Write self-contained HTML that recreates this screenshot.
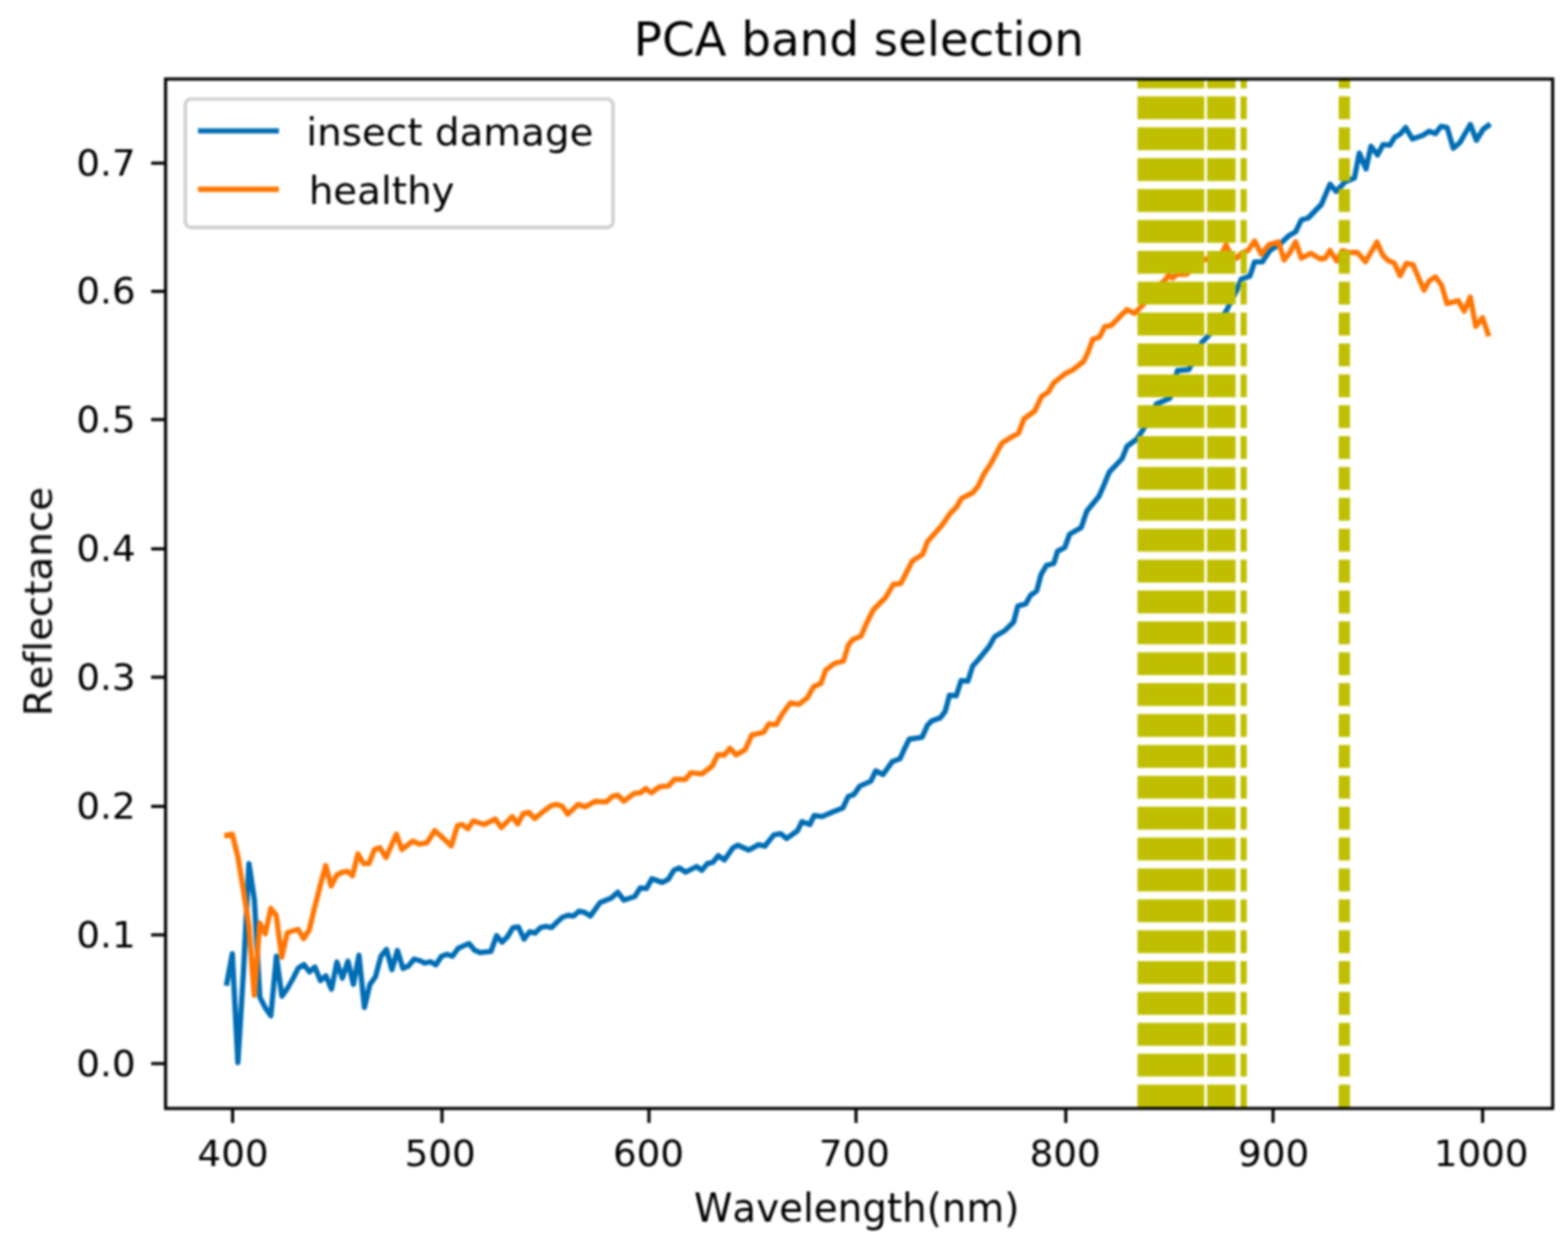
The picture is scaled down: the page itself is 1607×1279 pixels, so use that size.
<!DOCTYPE html>
<html lang="en"><head><meta charset="utf-8"><title>PCA band selection</title>
<style>
html,body{margin:0;padding:0;background:#fff;}
body{width:1607px;height:1279px;overflow:hidden;}
svg{display:block;}
text{font-family:"DejaVu Sans","Liberation Sans",sans-serif;fill:#000;font-variant-ligatures:none;font-feature-settings:"liga" 0,"clig" 0;font-kerning:none;}
.tk{font-size:38.2px;}
.lb,.lg{font-size:39.8px;}
.ttl{font-size:47.9px;}
</style></head><body>
<svg width="1607" height="1279" viewBox="0 0 1607 1279">
<rect x="0" y="0" width="1607" height="1279" fill="#fff"/>
<defs><clipPath id="ax"><rect x="169.7" y="81.0" width="1421.6" height="1055.0"/></clipPath>
<filter id="soft" x="0" y="0" width="1607" height="1279" filterUnits="userSpaceOnUse" color-interpolation-filters="sRGB"><feGaussianBlur stdDeviation="1.2"/></filter></defs>
<g filter="url(#soft)">
<g clip-path="url(#ax)">
<polyline fill="none" stroke="#006db4" stroke-width="5.4" stroke-linejoin="round" stroke-linecap="square" points="232.5,1007.5 238.1,977.5 243.8,1089.0 249.4,998.0 255.1,885.0 260.7,922.0 266.3,1022.0 272.0,1033.0 277.6,1041.0 283.3,980.0 288.9,1021.0 294.5,1013.0 300.2,1003.0 305.8,992.0 311.5,988.5 317.1,996.0 322.7,991.0 328.4,1005.0 334.0,1000.0 339.7,1013.8 345.3,986.0 350.9,1002.5 356.6,985.0 362.2,1008.8 367.9,979.0 373.5,1032.5 379.1,1008.8 384.8,1001.0 390.4,980.0 396.1,973.0 401.7,993.8 407.3,974.0 413.0,992.5 418.6,990.0 424.3,983.0 429.9,984.4 435.5,987.0 441.2,985.6 446.8,988.8 452.5,980.0 458.1,978.0 463.7,980.0 469.4,972.0 475.0,969.4 480.7,966.9 486.3,973.8 491.9,976.2 497.6,975.6 503.2,975.0 508.9,958.8 514.5,965.6 520.1,960.0 525.8,950.6 531.4,950.0 537.1,962.5 542.7,955.0 548.3,956.2 554.0,950.6 559.6,949.4 565.3,950.6 570.9,945.0 576.5,940.0 582.2,938.0 587.8,938.8 593.5,933.8 599.1,935.0 605.0,938.8 615.0,925.0 626.2,920.6 633.1,914.4 639.4,922.5 650.6,918.8 656.2,910.0 662.5,910.6 668.1,900.6 678.8,904.4 685.0,901.2 690.6,891.9 696.2,889.4 702.5,893.8 713.8,888.1 719.4,891.9 725.0,885.0 730.6,883.8 736.2,876.9 742.5,881.2 751.2,868.8 756.2,866.2 767.5,871.2 777.5,865.6 783.8,867.2 793.1,855.6 800.0,854.4 806.2,859.4 817.5,851.2 821.9,841.9 830.0,845.0 834.4,835.6 842.5,836.9 852.5,832.5 863.8,828.1 869.4,816.2 875.0,814.4 881.2,805.6 892.5,800.6 897.5,790.0 905.0,793.8 914.4,780.6 922.5,777.5 926.9,767.5 931.9,757.5 945.0,755.6 950.6,743.1 955.0,738.8 963.8,735.6 968.8,728.8 973.1,712.5 980.0,713.1 985.0,697.5 991.9,698.1 996.9,682.5 1002.5,676.2 1013.8,662.5 1019.4,652.5 1030.0,646.2 1038.8,637.5 1043.1,621.2 1051.2,618.8 1056.2,610.0 1062.5,605.6 1066.9,588.8 1072.5,579.4 1080.0,577.5 1083.8,565.0 1091.2,561.2 1096.2,547.5 1108.1,540.6 1113.8,523.8 1126.2,508.8 1131.2,497.5 1136.9,483.8 1150.0,470.0 1155.0,457.5 1165.0,450.0 1172.5,438.8 1185.2,414.0 1198.9,408.2 1206.7,379.8 1218.4,378.9 1232.1,350.5 1238.0,344.6 1256.5,319.2 1260.4,311.4 1267.3,297.7 1272.2,286.0 1281.0,283.0 1285.8,268.4 1293.7,268.4 1301.5,256.7 1312.2,249.8 1321.0,241.5 1327.9,237.5 1333.7,225.4 1340.6,223.5 1354.3,209.5 1363.1,188.8 1369.4,196.2 1378.8,186.2 1388.1,182.5 1393.1,156.9 1400.0,173.1 1405.0,150.0 1411.9,158.8 1417.5,148.1 1424.4,148.8 1429.4,140.6 1435.0,137.5 1440.6,130.6 1447.5,142.5 1458.1,138.8 1465.0,134.4 1471.2,136.9 1476.9,129.4 1483.1,130.6 1489.4,151.9 1496.2,146.2 1506.9,127.5 1513.1,143.8 1520.0,132.5 1525.3,128.6"/>
<polyline fill="none" stroke="#ff7604" stroke-width="5.4" stroke-linejoin="round" stroke-linecap="square" points="232.5,856.0 238.1,855.0 243.8,878.0 249.4,912.0 255.0,948.0 260.6,1020.0 266.2,946.0 271.9,957.0 277.5,931.0 283.1,938.0 288.8,981.0 294.4,956.0 300.0,954.0 305.6,952.5 311.2,962.0 316.9,953.0 322.5,930.0 328.1,908.0 333.8,887.0 339.4,908.0 345.0,897.0 350.6,894.0 356.2,893.0 361.2,897.5 366.9,875.0 372.5,885.0 378.1,885.0 383.8,870.6 389.4,868.8 395.6,878.8 406.2,855.0 411.9,870.6 423.1,861.9 429.4,865.0 437.5,863.8 445.6,851.2 451.2,856.2 462.5,866.9 468.8,846.2 473.8,845.0 479.4,849.4 485.0,841.2 496.2,845.0 507.5,839.4 513.8,848.1 525.0,836.9 530.6,844.4 536.2,833.8 541.9,832.5 548.1,838.8 558.8,830.0 565.0,825.6 570.6,824.4 576.2,826.2 581.9,834.4 592.5,824.4 600.0,826.9 610.0,821.2 621.2,821.9 627.5,816.2 633.1,815.0 639.4,821.2 650.0,813.1 656.2,812.5 661.9,808.1 667.5,812.5 676.2,806.2 685.0,805.6 691.2,798.8 702.5,798.8 708.1,791.9 719.4,793.1 730.0,785.0 735.6,773.5 742.5,773.8 748.1,766.9 754.4,773.8 763.8,768.1 770.6,753.1 782.5,750.6 788.1,741.9 795.6,742.5 801.2,732.5 810.0,720.5 818.8,721.9 827.5,715.0 833.8,703.8 841.2,700.6 846.2,686.9 855.0,680.0 864.4,677.5 869.4,661.2 873.8,655.6 882.5,651.9 887.5,640.0 895.0,625.0 907.5,612.5 915.6,598.8 923.1,598.1 935.0,575.0 945.6,568.1 950.6,555.0 965.0,538.8 973.8,526.2 980.0,520.0 985.6,510.6 996.9,505.0 1002.5,498.1 1008.8,485.0 1015.0,476.0 1026.7,454.2 1035.3,448.7 1043.9,444.0 1049.4,429.2 1060.4,421.3 1067.4,406.5 1074.4,401.8 1079.9,392.4 1091.6,383.0 1099.4,379.1 1110.4,370.5 1115.1,361.1 1119.8,347.9 1126.8,345.5 1132.3,334.6 1138.5,333.8 1146.3,326.0 1150.0,322.2 1154.9,317.3 1162.7,321.2 1171.5,312.4 1180.0,300.0 1194.0,287.0 1197.9,282.0 1201.8,285.0 1206.7,281.0 1216.5,281.0 1225.0,272.0 1235.4,265.5 1245.0,266.0 1250.8,263.0 1256.5,251.0 1262.0,262.5 1267.5,264.5 1272.5,259.5 1279.0,256.7 1285.8,247.0 1292.7,260.6 1300.5,250.8 1310.3,247.9 1316.1,266.5 1322.0,258.6 1327.9,247.9 1333.7,264.5 1343.5,259.6 1353.3,265.5 1358.2,264.5 1363.0,256.7 1369.9,267.4 1375.6,256.9 1382.5,258.8 1391.2,258.8 1399.4,268.1 1411.2,248.1 1416.9,261.2 1422.5,266.9 1428.8,269.4 1435.0,282.5 1441.2,270.0 1448.1,271.2 1459.4,297.5 1465.0,287.5 1471.2,283.8 1477.5,292.5 1483.1,311.2 1494.4,308.1 1500.6,318.8 1506.9,304.4 1512.5,334.4 1519.4,325.6 1525.0,342.0"/>
<g fill="#bfbf00">
<rect x="1165.8" y="1111.6" width="68.5" height="23.4"/>
<rect x="1165.8" y="1079.9" width="68.5" height="23.4"/>
<rect x="1165.8" y="1048.3" width="68.5" height="23.4"/>
<rect x="1165.8" y="1016.6" width="68.5" height="23.4"/>
<rect x="1165.8" y="985.0" width="68.5" height="23.4"/>
<rect x="1165.8" y="953.4" width="68.5" height="23.4"/>
<rect x="1165.8" y="921.7" width="68.5" height="23.4"/>
<rect x="1165.8" y="890.1" width="68.5" height="23.4"/>
<rect x="1165.8" y="858.4" width="68.5" height="23.4"/>
<rect x="1165.8" y="826.8" width="68.5" height="23.4"/>
<rect x="1165.8" y="795.1" width="68.5" height="23.4"/>
<rect x="1165.8" y="763.5" width="68.5" height="23.4"/>
<rect x="1165.8" y="731.8" width="68.5" height="23.4"/>
<rect x="1165.8" y="700.1" width="68.5" height="23.4"/>
<rect x="1165.8" y="668.5" width="68.5" height="23.4"/>
<rect x="1165.8" y="636.9" width="68.5" height="23.4"/>
<rect x="1165.8" y="605.2" width="68.5" height="23.4"/>
<rect x="1165.8" y="573.6" width="68.5" height="23.4"/>
<rect x="1165.8" y="541.9" width="68.5" height="23.4"/>
<rect x="1165.8" y="510.2" width="68.5" height="23.4"/>
<rect x="1165.8" y="478.6" width="68.5" height="23.4"/>
<rect x="1165.8" y="447.0" width="68.5" height="23.4"/>
<rect x="1165.8" y="415.3" width="68.5" height="23.4"/>
<rect x="1165.8" y="383.7" width="68.5" height="23.4"/>
<rect x="1165.8" y="352.0" width="68.5" height="23.4"/>
<rect x="1165.8" y="320.4" width="68.5" height="23.4"/>
<rect x="1165.8" y="288.7" width="68.5" height="23.4"/>
<rect x="1165.8" y="257.1" width="68.5" height="23.4"/>
<rect x="1165.8" y="225.4" width="68.5" height="23.4"/>
<rect x="1165.8" y="193.8" width="68.5" height="23.4"/>
<rect x="1165.8" y="162.1" width="68.5" height="23.4"/>
<rect x="1165.8" y="130.5" width="68.5" height="23.4"/>
<rect x="1165.8" y="98.8" width="68.5" height="23.4"/>
<rect x="1165.8" y="81.0" width="68.5" height="9.5"/>
<rect x="1237.1" y="1111.6" width="29.3" height="23.4"/>
<rect x="1237.1" y="1079.9" width="29.3" height="23.4"/>
<rect x="1237.1" y="1048.3" width="29.3" height="23.4"/>
<rect x="1237.1" y="1016.6" width="29.3" height="23.4"/>
<rect x="1237.1" y="985.0" width="29.3" height="23.4"/>
<rect x="1237.1" y="953.4" width="29.3" height="23.4"/>
<rect x="1237.1" y="921.7" width="29.3" height="23.4"/>
<rect x="1237.1" y="890.1" width="29.3" height="23.4"/>
<rect x="1237.1" y="858.4" width="29.3" height="23.4"/>
<rect x="1237.1" y="826.8" width="29.3" height="23.4"/>
<rect x="1237.1" y="795.1" width="29.3" height="23.4"/>
<rect x="1237.1" y="763.5" width="29.3" height="23.4"/>
<rect x="1237.1" y="731.8" width="29.3" height="23.4"/>
<rect x="1237.1" y="700.1" width="29.3" height="23.4"/>
<rect x="1237.1" y="668.5" width="29.3" height="23.4"/>
<rect x="1237.1" y="636.9" width="29.3" height="23.4"/>
<rect x="1237.1" y="605.2" width="29.3" height="23.4"/>
<rect x="1237.1" y="573.6" width="29.3" height="23.4"/>
<rect x="1237.1" y="541.9" width="29.3" height="23.4"/>
<rect x="1237.1" y="510.2" width="29.3" height="23.4"/>
<rect x="1237.1" y="478.6" width="29.3" height="23.4"/>
<rect x="1237.1" y="447.0" width="29.3" height="23.4"/>
<rect x="1237.1" y="415.3" width="29.3" height="23.4"/>
<rect x="1237.1" y="383.7" width="29.3" height="23.4"/>
<rect x="1237.1" y="352.0" width="29.3" height="23.4"/>
<rect x="1237.1" y="320.4" width="29.3" height="23.4"/>
<rect x="1237.1" y="288.7" width="29.3" height="23.4"/>
<rect x="1237.1" y="257.1" width="29.3" height="23.4"/>
<rect x="1237.1" y="225.4" width="29.3" height="23.4"/>
<rect x="1237.1" y="193.8" width="29.3" height="23.4"/>
<rect x="1237.1" y="162.1" width="29.3" height="23.4"/>
<rect x="1237.1" y="130.5" width="29.3" height="23.4"/>
<rect x="1237.1" y="98.8" width="29.3" height="23.4"/>
<rect x="1237.1" y="81.0" width="29.3" height="9.5"/>
<rect x="1271.4" y="1111.6" width="6.4" height="23.4"/>
<rect x="1271.4" y="1079.9" width="6.4" height="23.4"/>
<rect x="1271.4" y="1048.3" width="6.4" height="23.4"/>
<rect x="1271.4" y="1016.6" width="6.4" height="23.4"/>
<rect x="1271.4" y="985.0" width="6.4" height="23.4"/>
<rect x="1271.4" y="953.4" width="6.4" height="23.4"/>
<rect x="1271.4" y="921.7" width="6.4" height="23.4"/>
<rect x="1271.4" y="890.1" width="6.4" height="23.4"/>
<rect x="1271.4" y="858.4" width="6.4" height="23.4"/>
<rect x="1271.4" y="826.8" width="6.4" height="23.4"/>
<rect x="1271.4" y="795.1" width="6.4" height="23.4"/>
<rect x="1271.4" y="763.5" width="6.4" height="23.4"/>
<rect x="1271.4" y="731.8" width="6.4" height="23.4"/>
<rect x="1271.4" y="700.1" width="6.4" height="23.4"/>
<rect x="1271.4" y="668.5" width="6.4" height="23.4"/>
<rect x="1271.4" y="636.9" width="6.4" height="23.4"/>
<rect x="1271.4" y="605.2" width="6.4" height="23.4"/>
<rect x="1271.4" y="573.6" width="6.4" height="23.4"/>
<rect x="1271.4" y="541.9" width="6.4" height="23.4"/>
<rect x="1271.4" y="510.2" width="6.4" height="23.4"/>
<rect x="1271.4" y="478.6" width="6.4" height="23.4"/>
<rect x="1271.4" y="447.0" width="6.4" height="23.4"/>
<rect x="1271.4" y="415.3" width="6.4" height="23.4"/>
<rect x="1271.4" y="383.7" width="6.4" height="23.4"/>
<rect x="1271.4" y="352.0" width="6.4" height="23.4"/>
<rect x="1271.4" y="320.4" width="6.4" height="23.4"/>
<rect x="1271.4" y="288.7" width="6.4" height="23.4"/>
<rect x="1271.4" y="257.1" width="6.4" height="23.4"/>
<rect x="1271.4" y="225.4" width="6.4" height="23.4"/>
<rect x="1271.4" y="193.8" width="6.4" height="23.4"/>
<rect x="1271.4" y="162.1" width="6.4" height="23.4"/>
<rect x="1271.4" y="130.5" width="6.4" height="23.4"/>
<rect x="1271.4" y="98.8" width="6.4" height="23.4"/>
<rect x="1271.4" y="81.0" width="6.4" height="9.5"/>
<rect x="1372.0" y="1111.6" width="11.6" height="23.4"/>
<rect x="1372.0" y="1079.9" width="11.6" height="23.4"/>
<rect x="1372.0" y="1048.3" width="11.6" height="23.4"/>
<rect x="1372.0" y="1016.6" width="11.6" height="23.4"/>
<rect x="1372.0" y="985.0" width="11.6" height="23.4"/>
<rect x="1372.0" y="953.4" width="11.6" height="23.4"/>
<rect x="1372.0" y="921.7" width="11.6" height="23.4"/>
<rect x="1372.0" y="890.1" width="11.6" height="23.4"/>
<rect x="1372.0" y="858.4" width="11.6" height="23.4"/>
<rect x="1372.0" y="826.8" width="11.6" height="23.4"/>
<rect x="1372.0" y="795.1" width="11.6" height="23.4"/>
<rect x="1372.0" y="763.5" width="11.6" height="23.4"/>
<rect x="1372.0" y="731.8" width="11.6" height="23.4"/>
<rect x="1372.0" y="700.1" width="11.6" height="23.4"/>
<rect x="1372.0" y="668.5" width="11.6" height="23.4"/>
<rect x="1372.0" y="636.9" width="11.6" height="23.4"/>
<rect x="1372.0" y="605.2" width="11.6" height="23.4"/>
<rect x="1372.0" y="573.6" width="11.6" height="23.4"/>
<rect x="1372.0" y="541.9" width="11.6" height="23.4"/>
<rect x="1372.0" y="510.2" width="11.6" height="23.4"/>
<rect x="1372.0" y="478.6" width="11.6" height="23.4"/>
<rect x="1372.0" y="447.0" width="11.6" height="23.4"/>
<rect x="1372.0" y="415.3" width="11.6" height="23.4"/>
<rect x="1372.0" y="383.7" width="11.6" height="23.4"/>
<rect x="1372.0" y="352.0" width="11.6" height="23.4"/>
<rect x="1372.0" y="320.4" width="11.6" height="23.4"/>
<rect x="1372.0" y="288.7" width="11.6" height="23.4"/>
<rect x="1372.0" y="257.1" width="11.6" height="23.4"/>
<rect x="1372.0" y="225.4" width="11.6" height="23.4"/>
<rect x="1372.0" y="193.8" width="11.6" height="23.4"/>
<rect x="1372.0" y="162.1" width="11.6" height="23.4"/>
<rect x="1372.0" y="130.5" width="11.6" height="23.4"/>
<rect x="1372.0" y="98.8" width="11.6" height="23.4"/>
<rect x="1372.0" y="81.0" width="11.6" height="9.5"/>
</g></g>
<g stroke="#000" stroke-width="3.2" fill="none">
<line x1="238.4" y1="1136.0" x2="238.4" y2="1150.8"/>
<line x1="453.0" y1="1136.0" x2="453.0" y2="1150.8"/>
<line x1="665.1" y1="1136.0" x2="665.1" y2="1150.8"/>
<line x1="877.3" y1="1136.0" x2="877.3" y2="1150.8"/>
<line x1="1092.3" y1="1136.0" x2="1092.3" y2="1150.8"/>
<line x1="1304.7" y1="1136.0" x2="1304.7" y2="1150.8"/>
<line x1="1519.5" y1="1136.0" x2="1519.5" y2="1150.8"/>
<line x1="169.7" y1="1090.0" x2="154.9" y2="1090.0"/>
<line x1="169.7" y1="958.1" x2="154.9" y2="958.1"/>
<line x1="169.7" y1="826.4" x2="154.9" y2="826.4"/>
<line x1="169.7" y1="694.0" x2="154.9" y2="694.0"/>
<line x1="169.7" y1="562.5" x2="154.9" y2="562.5"/>
<line x1="169.7" y1="430.0" x2="154.9" y2="430.0"/>
<line x1="169.7" y1="298.6" x2="154.9" y2="298.6"/>
<line x1="169.7" y1="167.2" x2="154.9" y2="167.2"/>
<rect x="169.7" y="81.0" width="1421.6" height="1055.0" stroke-linejoin="miter"/>
</g>
<text class="tk" id="x400" transform="translate(238.8,1194.8) scale(1,0.97)" text-anchor="middle">400</text>
<text class="tk" id="x500" transform="translate(451.2,1194.8) scale(1,0.97)" text-anchor="middle">500</text>
<text class="tk" id="x600" transform="translate(664.6,1194.8) scale(1,0.97)" text-anchor="middle">600</text>
<text class="tk" id="x700" transform="translate(875.6,1194.8) scale(1,0.97)" text-anchor="middle">700</text>
<text class="tk" id="x800" transform="translate(1091.7,1194.8) scale(1,0.97)" text-anchor="middle">800</text>
<text class="tk" id="x900" transform="translate(1305.3,1194.8) scale(1,0.97)" text-anchor="middle">900</text>
<text class="tk" id="x1000" transform="translate(1518.0,1194.8) scale(1,0.97)" text-anchor="middle">1000</text>
<text class="tk" id="y0" transform="translate(139.0,1102.7) scale(1,0.97)" text-anchor="end">0.0</text>
<text class="tk" id="y1" transform="translate(139.0,970.8) scale(1,0.97)" text-anchor="end">0.1</text>
<text class="tk" id="y2" transform="translate(139.0,839.1) scale(1,0.97)" text-anchor="end">0.2</text>
<text class="tk" id="y3" transform="translate(139.0,706.7) scale(1,0.97)" text-anchor="end">0.3</text>
<text class="tk" id="y4" transform="translate(139.0,575.2) scale(1,0.97)" text-anchor="end">0.4</text>
<text class="tk" id="y5" transform="translate(139.0,442.7) scale(1,0.97)" text-anchor="end">0.5</text>
<text class="tk" id="y6" transform="translate(139.0,311.3) scale(1,0.97)" text-anchor="end">0.6</text>
<text class="tk" id="y7" transform="translate(139.0,179.9) scale(1,0.97)" text-anchor="end">0.7</text>
<text class="lb" id="xl" transform="translate(878.0,1252.0) scale(1,1.02)" text-anchor="middle">Wavelength(nm)</text>
<text class="lb" id="yl" transform="translate(53.0,616.5) rotate(-90)" text-anchor="middle">Reflectance</text>
<text class="ttl" id="tt" x="880.2" y="56.6" text-anchor="middle">PCA band selection</text>
<rect x="189.9" y="101.5" width="438.4" height="131.6" rx="6" ry="6" fill="#fff" fill-opacity="0.8" stroke="#d0d0d0" stroke-width="3.6"/>
<line x1="205.6" y1="134.1" x2="283.2" y2="134.1" stroke="#006db4" stroke-width="5.4" stroke-linecap="square"/>
<line x1="205.6" y1="194" x2="283.2" y2="194" stroke="#ff7604" stroke-width="5.4" stroke-linecap="square"/>
<text class="lg" id="l1" x="314.0" y="148.8">insect damage</text>
<text class="lg" id="l2" x="316.4" y="209.2">healthy</text>
</g></svg></body></html>
